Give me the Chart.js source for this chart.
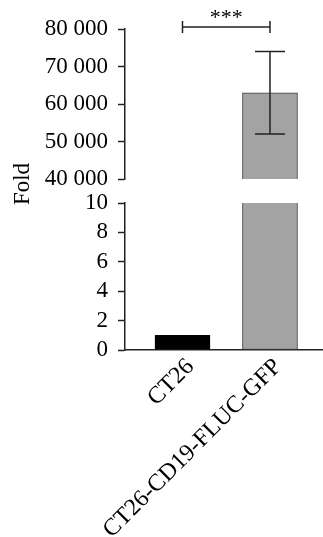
<!DOCTYPE html>
<html>
<head>
<meta charset="utf-8">
<script src="https://cdn.jsdelivr.net/npm/chart.js@4/dist/chart.umd.min.js"></script>
<style>
  html, body { margin: 0; padding: 0; background: #fff; }
  #wrap { width: 323px; height: 537px; position: relative; }
</style>
</head>
<body>
<div id="wrap"><canvas id="chart"></canvas></div>
<script>
// valori
var categories = ['CT26', 'CT26-CD19-FLUC-GFP'];
var foldMean = [1, 63000];
var foldErrLow = [null, 52000];
var foldErrHigh = [null, 74000];
var signifPair = [0, 1];
var signifLabel = '***';
var yTitle = 'Fold';

// asse y spezzato: segmento basso e segmento alto
var lowerRange = [0, 10];
var upperRange = [40000, 80000];
var lowerStep = 2;
var upperStep = 10000;

// stile
var fontFamily = "'Liberation Serif', 'Times New Roman', Times, serif";
var barFill = ['#000000', '#a3a3a3'];
var barBorder = ['#000000', '#3c3c3c'];
var axisColor = '#222222';

function thousands(v) {
    return String(v).replace(/\B(?=(\d{3})+(?!\d))/g, ' ');
}

// barre: la parte bassa viene tagliata al massimo del segmento basso,
// quella alta parte dall'inizio del segmento alto
var lowerData = [];
var upperData = [];
foldMean.forEach(function (v, i) {
    lowerData.push({ x: i, y: Math.min(v, lowerRange[1]) });
    if (v > upperRange[0]) upperData.push({ x: i, y: [upperRange[0], v] });
});

var extras = {
    id: 'extras',
    afterDatasetsDraw: function (chart) {
        var ctx = chart.ctx;
        var xs = chart.scales.x;
        var yT = chart.scales.yTop;
        var yB = chart.scales.yBot;
        ctx.save();
        ctx.strokeStyle = axisColor;
        ctx.lineWidth = 1.5;

        // barre di errore
        foldMean.forEach(function (v, i) {
            if (foldErrHigh[i] == null) return;
            var px = xs.getPixelForValue(i);
            var y1 = yT.getPixelForValue(foldErrHigh[i]);
            var y2 = yT.getPixelForValue(foldErrLow[i]);
            ctx.beginPath();
            ctx.moveTo(px, y1); ctx.lineTo(px, y2);
            ctx.moveTo(px - 15, y1); ctx.lineTo(px + 15, y1);
            ctx.moveTo(px - 15, y2); ctx.lineTo(px + 15, y2);
            ctx.stroke();
        });

        // parentesi di significativita
        var xa = xs.getPixelForValue(signifPair[0]);
        var xb = xs.getPixelForValue(signifPair[1]);
        var yb = chart.chartArea.top - 2;
        ctx.beginPath();
        ctx.moveTo(xa, yb - 6); ctx.lineTo(xa, yb + 6);
        ctx.moveTo(xa, yb); ctx.lineTo(xb, yb);
        ctx.moveTo(xb, yb - 6); ctx.lineTo(xb, yb + 6);
        ctx.stroke();
        ctx.fillStyle = '#000';
        ctx.font = '22px ' + fontFamily;
        ctx.textAlign = 'center';
        ctx.textBaseline = 'alphabetic';
        ctx.fillText(signifLabel, (xa + xb) / 2, yb - 3.5);

        // titolo asse y, centrato sulla rottura
        ctx.font = '23px ' + fontFamily;
        ctx.translate(23, (yT.bottom + yB.top) / 2 - 7);
        ctx.rotate(-Math.PI / 2);
        ctx.textBaseline = 'middle';
        ctx.fillText(yTitle, 0, 0);
        ctx.restore();
    }
};

var yCommon = {
    type: 'linear',
    position: 'left',
    stack: 'y',
    grid: { drawOnChartArea: false, drawTicks: true, tickLength: 7, tickWidth: 1.5, tickColor: axisColor },
    border: { display: true, color: axisColor, width: 1.5 },
    afterFit: function (s) { s.width = 125; }
};

new Chart(document.getElementById('chart').getContext('2d'), {
    type: 'bar',
    data: {
        datasets: [{
            data: lowerData,
            yAxisID: 'yBot',
            grouped: false,
            barThickness: 55,
            backgroundColor: function (c) { return barFill[c.raw.x]; },
            borderColor: function (c) { return barBorder[c.raw.x]; },
            borderWidth: 1,
            borderSkipped: function (c) { return foldMean[c.raw.x] > lowerRange[1] ? 'top' : 'start'; }
        }, {
            data: upperData,
            yAxisID: 'yTop',
            grouped: false,
            barThickness: 55,
            backgroundColor: function (c) { return barFill[c.raw.x]; },
            borderColor: function (c) { return barBorder[c.raw.x]; },
            borderWidth: 1,
            borderSkipped: 'start'
        }]
    },
    options: {
        responsive: true,
        maintainAspectRatio: false,
        animation: false,
        layout: { padding: { top: 29, left: 0, right: 0, bottom: 0 } },
        plugins: { legend: { display: false }, tooltip: { enabled: false } },
        scales: {
            x: {
                type: 'linear',
                offset: false,
                min: -0.657,
                max: 1.606,
                afterBuildTicks: function (s) {
                    s.ticks = categories.map(function (c, i) { return { value: i }; });
                },
                afterFit: function (s) { s.height = 187; },
                grid: { display: false },
                border: { display: true, color: axisColor, width: 1.5 },
                ticks: {
                    autoSkip: false,
                    minRotation: 45,
                    maxRotation: 45,
                    padding: -5,
                    labelOffset: 8,
                    color: '#000',
                    font: { family: fontFamily, size: 24 },
                    callback: function (v) { return categories[v]; }
                }
            },
            // l'ordine di impilamento parte dal basso
            yBot: Object.assign({}, yCommon, {
                stackWeight: 147,
                min: lowerRange[0],
                max: lowerRange[1],
                ticks: { stepSize: lowerStep, autoSkip: false, padding: 10, color: '#000', font: { family: fontFamily, size: 23 } }
            }),
            yGap: {
                type: 'linear',
                position: 'left',
                stack: 'y',
                stackWeight: 24,
                min: 0,
                max: 1,
                ticks: { display: false },
                grid: { display: false },
                border: { display: false },
                afterFit: function (s) { s.width = 125; }
            },
            yTop: Object.assign({}, yCommon, {
                stackWeight: 150,
                min: upperRange[0],
                max: upperRange[1],
                ticks: { stepSize: upperStep, autoSkip: false, padding: 10, color: '#000', font: { family: fontFamily, size: 23 }, callback: thousands }
            })
        }
    },
    plugins: [extras]
});
</script>
</body>
</html>
